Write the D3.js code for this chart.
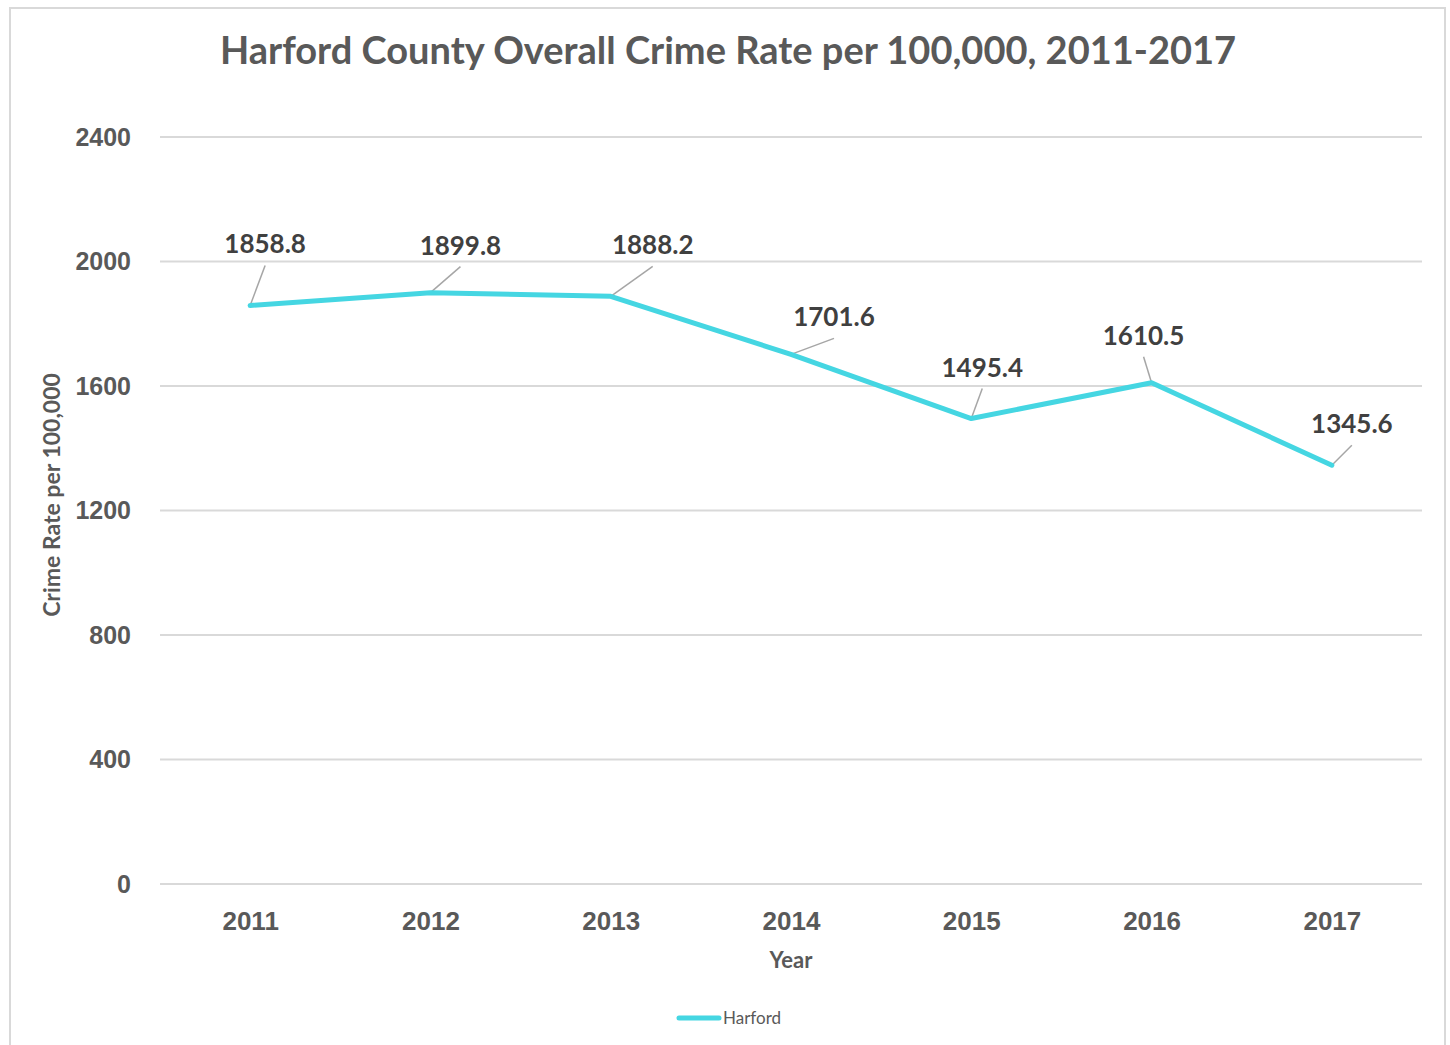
<!DOCTYPE html>
<html>
<head>
<meta charset="utf-8">
<script src="https://cdn.jsdelivr.net/npm/d3@7"></script>
<style>
  body { margin: 0; background: #fff; }
  svg { display: block; font-family: Lato, "Open Sans", sans-serif; }
</style>
</head>
<body>
<div id="chart"></div>
<script>
// data
let years = ["2011", "2012", "2013", "2014", "2015", "2016", "2017"];
let harford = [1858.8, 1899.8, 1888.2, 1701.6, 1495.4, 1610.5, 1345.6];
let yTicks = [0, 400, 800, 1200, 1600, 2000, 2400];

// where each data label sits relative to its point (layout only)
let labelOffsets = [
    [15, -52], [30, -38], [42, -42], [43, -28], [11, -42], [-8, -38], [20, -32]
];

let width = 1450,
    height = 1045;
let margin = { left: 160, right: 28, top: 137, bottom: 161 };

let svg = d3.select("#chart")
    .append("svg")
    .attr("width", width)
    .attr("height", height);

// chart border
svg.append("rect")
    .attr("x", 10)
    .attr("y", 8)
    .attr("width", 1435)
    .attr("height", 1060)
    .attr("fill", "none")
    .attr("stroke", "#d9d9d9")
    .attr("stroke-width", 2);

let x = d3.scalePoint()
    .domain(years)
    .range([margin.left, width - margin.right])
    .padding(0.5);

let y = d3.scaleLinear()
    .domain([0, 2400])
    .range([height - margin.bottom, margin.top]);

// gridlines
svg.append("g")
    .selectAll("line")
    .data(yTicks)
    .enter().append("line")
    .attr("x1", margin.left)
    .attr("x2", width - margin.right)
    .attr("y1", function (d) { return y(d) })
    .attr("y2", function (d) { return y(d) })
    .attr("stroke", "#d9d9d9")
    .attr("stroke-width", 2);

// y axis labels
let yAxis = svg.append("g")
    .attr("transform", "translate(" + (margin.left - 29) + ",0)")
    .call(d3.axisLeft(y).tickValues(yTicks).tickFormat(d3.format("d")).tickSize(0).tickPadding(0));
yAxis.select(".domain").remove();
yAxis.selectAll("text")
    .attr("fill", "#595959")
    .style("font-size", "25px")
    .style("font-weight", "bold");

// x axis labels
let xAxis = svg.append("g")
    .attr("transform", "translate(0," + y(0) + ")")
    .call(d3.axisBottom(x).tickSize(0).tickPadding(28));
xAxis.select(".domain").remove();
xAxis.selectAll("text")
    .attr("fill", "#595959")
    .style("font-size", "26px")
    .style("font-weight", "bold");

// title
svg.append("text")
    .attr("x", 728)
    .attr("y", 64)
    .attr("text-anchor", "middle")
    .attr("fill", "#595959")
    .style("font-size", "38px")
    .style("font-weight", "bold")
    .text("Harford County Overall Crime Rate per 100,000, 2011-2017");

// axis titles
svg.append("text")
    .attr("x", 791)
    .attr("y", 968)
    .attr("text-anchor", "middle")
    .attr("fill", "#595959")
    .style("font-size", "22px")
    .style("font-weight", "bold")
    .text("Year");

svg.append("text")
    .attr("transform", "translate(60,495) rotate(-90)")
    .attr("text-anchor", "middle")
    .attr("fill", "#595959")
    .style("font-size", "23px")
    .style("font-weight", "bold")
    .text("Crime Rate per 100,000");

// series line
let points = years.map(function (d, i) { return { year: d, value: harford[i], i: i } });

let line = d3.line()
    .x(function (d) { return x(d.year) })
    .y(function (d) { return y(d.value) });

// leader lines
svg.append("g")
    .selectAll("line")
    .data(points)
    .enter().append("line")
    .attr("x1", function (d) { return x(d.year) })
    .attr("y1", function (d) { return y(d.value) })
    .attr("x2", function (d) { return x(d.year) + labelOffsets[d.i][0] })
    .attr("y2", function (d) { return y(d.value) + labelOffsets[d.i][1] + 12 })
    .attr("stroke", "#a6a6a6")
    .attr("stroke-width", 1.5);

svg.append("path")
    .datum(points)
    .attr("d", line)
    .attr("fill", "none")
    .attr("stroke", "#45d6e2")
    .attr("stroke-width", 5)
    .attr("stroke-linejoin", "round")
    .attr("stroke-linecap", "round");

// data labels
svg.append("g")
    .selectAll("text")
    .data(points)
    .enter().append("text")
    .attr("x", function (d) { return x(d.year) + labelOffsets[d.i][0] })
    .attr("y", function (d) { return y(d.value) + labelOffsets[d.i][1] })
    .attr("text-anchor", "middle")
    .attr("fill", "#404040")
    .style("font-size", "26px")
    .style("font-weight", "bold")
    .text(function (d) { return d.value.toFixed(1) });

// legend
let legend = svg.append("g");
legend.append("line")
    .attr("x1", 679)
    .attr("x2", 719)
    .attr("y1", 1018)
    .attr("y2", 1018)
    .attr("stroke", "#45d6e2")
    .attr("stroke-width", 5)
    .attr("stroke-linecap", "round");
legend.append("text")
    .attr("x", 723)
    .attr("y", 1024)
    .attr("fill", "#595959")
    .style("font-size", "17px")
    .text("Harford");
</script>
</body>
</html>
